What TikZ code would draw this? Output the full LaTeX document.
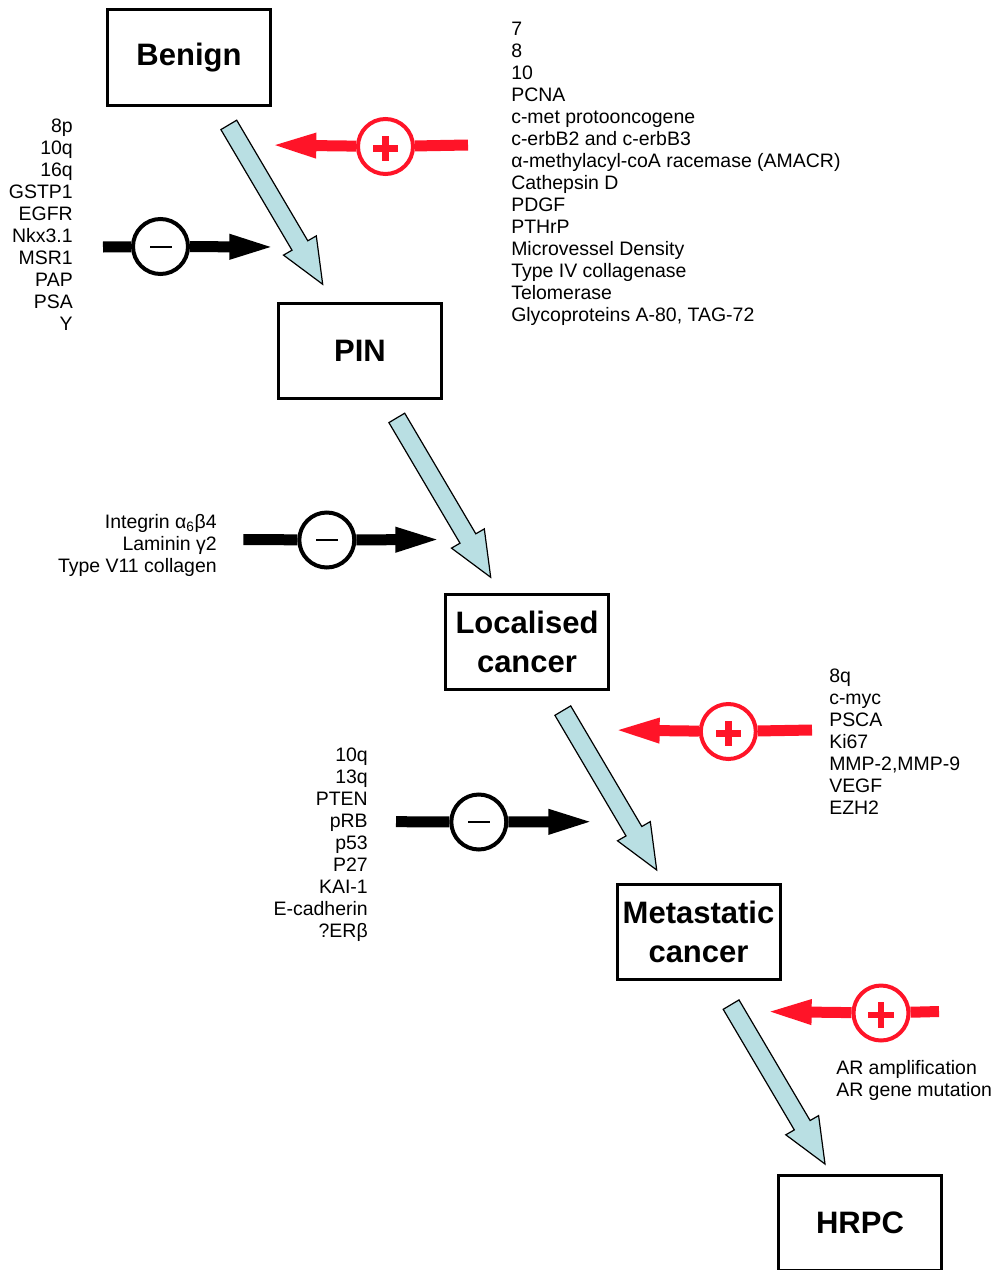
\documentclass[tikz,border=0pt]{standalone}
\usepackage{fontspec}
\setmainfont{Liberation Sans}
\usetikzlibrary{arrows.meta,calc}
\definecolor{progblue}{RGB}{185,223,227}
\definecolor{actred}{RGB}{255,20,40}
\newcommand{\progarrow}[1]{%
  \draw[prog] ($(#1)+(-101.8,-154.7)$) -- ($(#1)+(-30.7,-34.1)$) -- ($(#1)+(-39.2,-29.2)$) -- (#1)
   -- ($(#1)+(-6.4,-48.4)$) -- ($(#1)+(-14.9,-43.5)$) -- ($(#1)+(-86,-164.1)$) -- cycle;}
\begin{document}
\begin{tikzpicture}[x=0.75pt,y=-0.75pt,
  stage/.style={draw=black, line width=2.25pt, minimum width=122.25pt, minimum height=71.25pt,
    inner sep=0pt, align=center, font=\fontsize{23.25}{29.25}\selectfont\bfseries},
  lst/.style={inner sep=0pt, font=\fontsize{14.6}{16.5}\selectfont},
  inhcirc/.style={circle, draw=black, fill=white, line width=3pt, minimum size=41.25pt, inner sep=0pt,
    path picture={\fill[black] ([xshift=-8.25pt,yshift=-0.75pt]path picture bounding box.center)
      rectangle ([xshift=8.25pt,yshift=0.75pt]path picture bounding box.center);}},
  actcirc/.style={circle, draw=actred, fill=white, line width=3pt, minimum size=41.25pt, inner sep=0pt,
    path picture={\fill[actred] ([xshift=-9.4pt,yshift=-3.95pt]path picture bounding box.center)
      rectangle ([xshift=9.4pt,yshift=0.95pt]path picture bounding box.center);
      \fill[actred] ([xshift=-2.45pt,yshift=-10.9pt]path picture bounding box.center)
      rectangle ([xshift=2.45pt,yshift=7.9pt]path picture bounding box.center);}},
  inhbar/.style={draw=black, line width=8.25pt},
  actbar/.style={draw=actred, line width=8.25pt},
  headtip/.style={-{Triangle[length=35.5pt,width=16.5pt]}},
  prog/.style={draw=black, fill=progblue, line width=0.9pt, line join=miter}
]
\fill[white] (0,0) rectangle (995,1270);
\useasboundingbox (0,0) rectangle (995,1270);

% stage boxes
\node[stage] (benign) at (189,57.5) {Benign};
\node[stage] (pin) at (360,351) {PIN};
\node[stage] (local) at (527,642) {Localised\\cancer};
\node[stage] (meta) at (698.5,932) {Metastatic\\cancer};
\node[stage] (hrpc) at (860,1223) {HRPC};

% progression arrows
\coordinate (t1) at (322.7,284.3);
\coordinate (t2) at (490.7,577.3);
\coordinate (t3) at (656.7,870);
\coordinate (t4) at (825,1164);
\progarrow{t1}
\progarrow{t2}
\progarrow{t3}
\progarrow{t4}

% activators
\node[actcirc] (a1) at (385.5,146.5) {};
\coordinate (a1s) at (468,145);
\coordinate (a1e) at (269,145);
\draw[actbar] (a1s) -- (a1);
\draw[actbar,headtip] (a1) -- (a1e);

\node[actcirc] (a2) at (728.3,731.5) {};
\coordinate (a2s) at (812,730);
\coordinate (a2e) at (612.3,730);
\draw[actbar] (a2s) -- (a2);
\draw[actbar,headtip] (a2) -- (a2e);

\node[actcirc] (a3) at (881,1013) {};
\coordinate (a3s) at (939,1011.5);
\coordinate (a3e) at (764.3,1011.5);
\draw[actbar] (a3s) -- (a3);
\draw[actbar,headtip] (a3) -- (a3e);

% inhibitors
\node[inhcirc] (i1) at (160.5,246.5) {};
\coordinate (i1s) at (103,247);
\coordinate (i1e) at (276.7,247);
\draw[inhbar] (i1s) -- (i1);
\draw[inhbar,headtip] (i1) -- (i1e);

\node[inhcirc] (i2) at (326.8,540) {};
\coordinate (i2s) at (243.3,539.5);
\coordinate (i2e) at (442.7,539.5);
\draw[inhbar] (i2s) -- (i2);
\draw[inhbar,headtip] (i2) -- (i2e);

\node[inhcirc] (i3) at (478.8,822) {};
\coordinate (i3s) at (396,821.7);
\coordinate (i3e) at (595.7,821.7);
\draw[inhbar] (i3s) -- (i3);
\draw[inhbar,headtip] (i3) -- (i3e);

% lists
\node[lst, anchor=north west, align=left] (l1) at (511,19.6) {\strut 7\\8\\10\\PCNA\\c-met protooncogene\\c-erbB2 and c-erbB3\\α-methylacyl-coA racemase (AMACR)\\Cathepsin D\\PDGF\\PTHrP\\Microvessel Density\\Type IV collagenase\\Telomerase\\Glycoproteins A-80, TAG-72};
\node[lst, anchor=north east, align=right] (l2) at (73,116.6) {\strut 8p\\10q\\16q\\GSTP1\\EGFR\\Nkx3.1\\MSR1\\PAP\\PSA\\Y};
\node[lst, anchor=north east, align=right] (l3) at (217,512.6) {\strut Integrin α\textsubscript{6}β4\\Laminin γ2\\Type V11 collagen};
\node[lst, anchor=north west, align=left] (l4) at (829,666.6) {\strut 8q\\c-myc\\PSCA\\Ki67\\MMP-2,MMP-9\\VEGF\\EZH2};
\node[lst, anchor=north east, align=right] (l5) at (368,745.6) {\strut 10q\\13q\\PTEN\\pRB\\p53\\P27\\KAI-1\\E-cadherin\\?ERβ};
\node[lst, anchor=north west, align=left] (l6) at (836,1058.6) {\strut AR amplification\\AR gene mutation};
\end{tikzpicture}
\end{document}
